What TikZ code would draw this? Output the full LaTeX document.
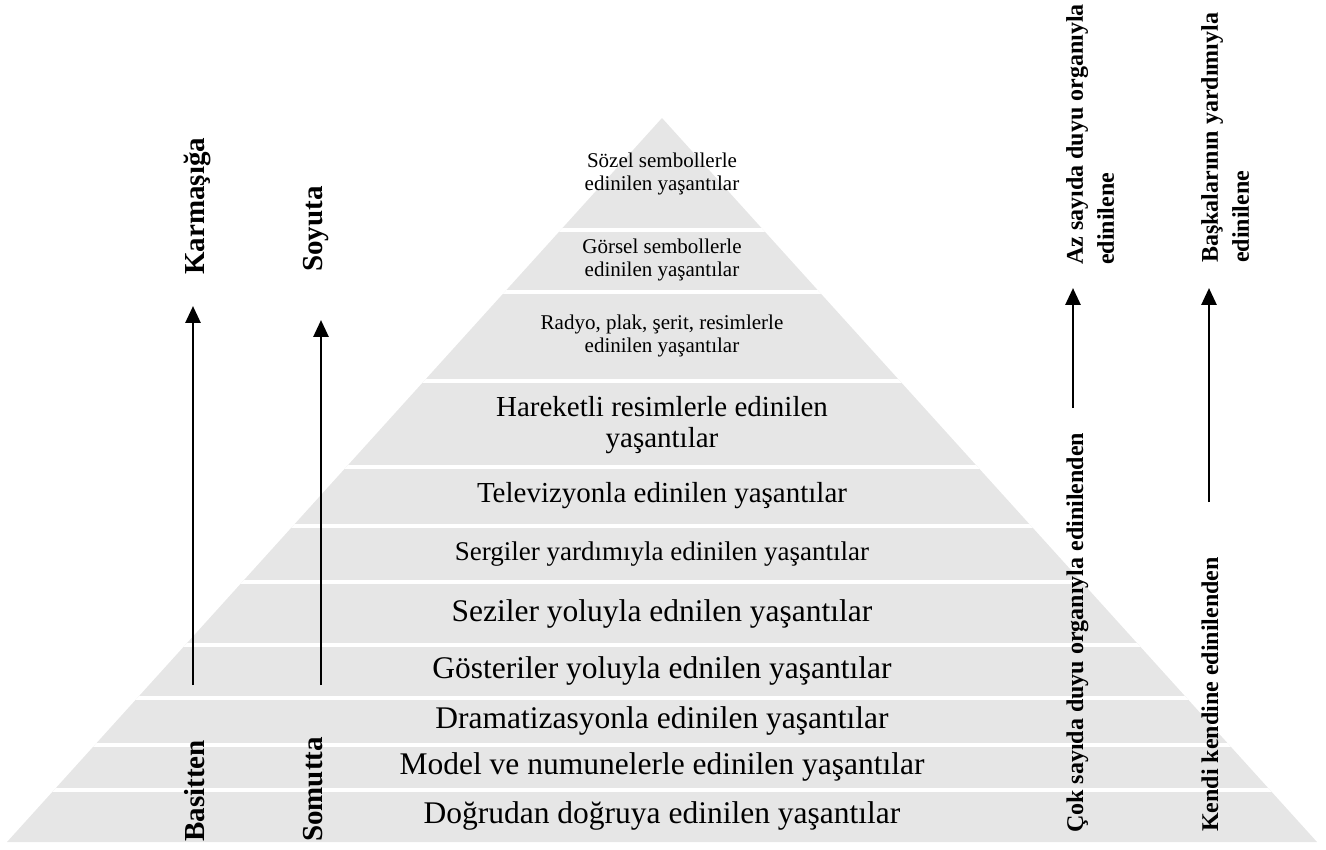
\documentclass[tikz,border=0pt]{standalone}
\usepackage{fontspec}
\setmainfont{Liberation Serif}
\usetikzlibrary{arrows.meta}
\definecolor{bandgray}{RGB}{230,230,230}
\begin{document}
\begin{tikzpicture}[x=1pt,y=-1pt,
  sepline/.style={draw=white,line width=3.5pt},
  lvl/.style={align=center,inner sep=0pt,text=black},
  small/.style={font=\fontsize{21}{23}\selectfont},
  sideL/.style={font=\bfseries\fontsize{29}{33}\selectfont,rotate=90,anchor=base west,inner sep=0pt},
  sideR/.style={font=\bfseries\fontsize{24}{31}\selectfont,rotate=90,inner sep=0pt},
  arr/.style={line width=2.8pt,-{Triangle[length=17pt,width=15pt]}}]
\useasboundingbox (0,0) rectangle (1326,850);
% pyramid
\coordinate (apex) at (662,118);
\coordinate (bl) at (7,842);
\coordinate (br) at (1317,842);
\fill[bandgray] (apex) -- (br) -- (bl) -- cycle;
\begin{scope}
  \clip (apex) -- (br) -- (bl) -- cycle;
  \foreach \yy in {230,292,381,467,526,582,645,698,745,790}
    \draw[sepline] (0,\yy) -- (1326,\yy);
\end{scope}
% level texts
\node[lvl,small] (l11) at (662,174) {Sözel sembollerle\\edinilen yaşantılar};
\node[lvl,small] (l10) at (662,260) {Görsel sembollerle\\edinilen yaşantılar};
\node[lvl,small] (l9) at (662,336) {Radyo, plak, şerit, resimlerle\\edinilen yaşantılar};
\node[lvl,font=\fontsize{29}{31}\selectfont] (l8) at (662,425) {Hareketli resimlerle edinilen\\yaşantılar};
\node[lvl,font=\fontsize{29}{31}\selectfont] (l7) at (662,496) {Televizyonla edinilen yaşantılar};
\node[lvl,font=\fontsize{27}{30}\selectfont] (l6) at (662,554) {Sergiler yardımıyla edinilen yaşantılar};
\node[lvl,font=\fontsize{31.5}{34}\selectfont] (l5) at (662,614) {Seziler yoluyla ednilen yaşantılar};
\node[lvl,font=\fontsize{31.5}{34}\selectfont] (l4) at (662,671) {Gösteriler yoluyla ednilen yaşantılar};
\node[lvl,font=\fontsize{31.5}{34}\selectfont] (l3) at (662,721) {Dramatizasyonla edinilen yaşantılar};
\node[lvl,font=\fontsize{31.5}{34}\selectfont] (l2) at (662,767) {Model ve numunelerle edinilen yaşantılar};
\node[lvl,font=\fontsize{31.5}{34}\selectfont] (l1) at (662,816) {Doğrudan doğruya edinilen yaşantılar};
% left side labels
\node[sideL] (karm) at (204,275) {Karmaşığa};
\node[sideL] (soy) at (322,272) {Soyuta};
\node[sideL] (bas) at (204,842) {Basitten};
\node[sideL] (som) at (322,842) {Somutta};
% right side labels
\node[sideR,anchor=north west,align=left] (az) at (1066,265) {Az sayıda duyu organıyla\\edinilene};
\node[sideR,anchor=north west,align=left] (bask) at (1201,263) {Başkalarının yardımıyla\\edinilene};
\node[sideR,anchor=base west] (cok) at (1083,833) {Çok sayıda duyu organıyla edinilenden};
\node[sideR,anchor=base west] (kendi) at (1218,832) {Kendi kendine edinilenden};
% arrows
\coordinate (a1s) at (193,685); \coordinate (a1e) at (193,306);
\coordinate (a2s) at (321,685); \coordinate (a2e) at (321,320);
\coordinate (a3s) at (1073,408); \coordinate (a3e) at (1073,288);
\coordinate (a4s) at (1209,502); \coordinate (a4e) at (1209,288);
\draw[arr] (a1s) -- (a1e);
\draw[arr] (a2s) -- (a2e);
\draw[arr] (a3s) -- (a3e);
\draw[arr] (a4s) -- (a4e);
\end{tikzpicture}
\end{document}
